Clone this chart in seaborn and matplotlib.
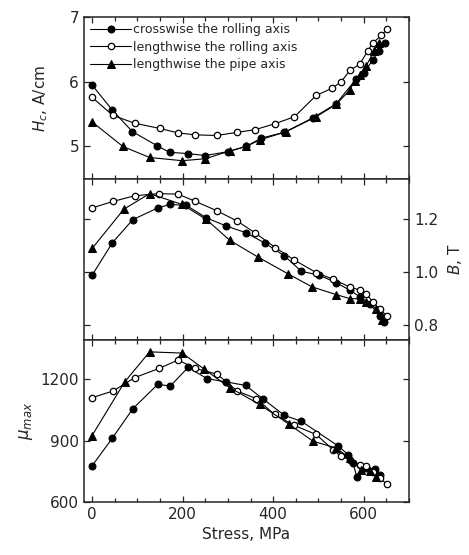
import numpy as np
import pandas as pd
import matplotlib
matplotlib.use("Agg")
import matplotlib.pyplot as plt
import seaborn as sns

# ---------------------------
# Data
# ---------------------------
# Coercive force Hc, A/cm
hc_cross_x = [0, 45, 89, 144, 171, 212, 250, 300, 340, 374, 425, 487, 539, 583, 600, 620, 633, 646]
hc_cross_y = [5.95, 5.56, 5.23, 5.01, 4.91, 4.89, 4.86, 4.92, 5.0, 5.13, 5.22, 5.44, 5.66, 6.04, 6.13, 6.34, 6.47, 6.6]
hc_long_x = [0, 46, 94, 149, 190, 228, 276, 321, 360, 403, 447, 495, 530, 550, 570, 591, 609, 620, 639, 651]
hc_long_y = [5.76, 5.48, 5.36, 5.28, 5.21, 5.18, 5.17, 5.22, 5.26, 5.35, 5.46, 5.79, 5.9, 6.0, 6.18, 6.27, 6.48, 6.6, 6.72, 6.81]
hc_pipe_x = [0, 68, 127, 199, 250, 304, 340, 370, 429, 495, 539, 569, 580, 591, 605, 622, 633]
hc_pipe_y = [5.38, 5.0, 4.83, 4.78, 4.81, 4.93, 5.0, 5.1, 5.23, 5.46, 5.65, 5.87, 6.02, 6.1, 6.24, 6.47, 6.6]

# Induction B, T
b_cross_x = [0, 45, 90, 145, 171, 208, 252, 296, 339, 381, 425, 462, 502, 539, 569, 591, 613, 635, 644]
b_cross_y = [0.986, 1.109, 1.196, 1.24, 1.253, 1.25, 1.203, 1.172, 1.147, 1.108, 1.059, 1.001, 0.986, 0.958, 0.93, 0.905, 0.879, 0.833, 0.81]
b_long_x = [0, 47, 94, 148, 190, 228, 276, 321, 359, 405, 447, 495, 532, 569, 591, 605, 620, 635, 651]
b_long_y = [1.24, 1.265, 1.286, 1.294, 1.292, 1.265, 1.229, 1.19, 1.147, 1.09, 1.043, 0.996, 0.971, 0.942, 0.93, 0.917, 0.886, 0.858, 0.833]
b_pipe_x = [0, 70, 127, 199, 252, 304, 366, 432, 486, 539, 569, 591, 605, 628, 641]
b_pipe_y = [1.087, 1.235, 1.294, 1.253, 1.197, 1.118, 1.055, 0.992, 0.942, 0.913, 0.898, 0.897, 0.886, 0.86, 0.816]

# Maximum permeability
mu_cross_x = [0, 45, 90, 145, 173, 212, 254, 296, 339, 377, 425, 462, 543, 566, 576, 585, 605, 624, 635]
mu_cross_y = [777, 913, 1056, 1175, 1167, 1258, 1203, 1187, 1170, 1105, 1023, 995, 875, 831, 793, 721, 766, 761, 733]
mu_long_x = [0, 47, 94, 148, 190, 228, 276, 321, 363, 403, 447, 495, 532, 550, 569, 591, 605, 620, 635, 651]
mu_long_y = [1110, 1143, 1208, 1253, 1294, 1253, 1225, 1142, 1105, 1028, 974, 930, 856, 823, 807, 782, 774, 749, 717, 688]
mu_pipe_x = [0, 72, 127, 199, 248, 304, 370, 436, 488, 539, 569, 594, 613, 628]
mu_pipe_y = [925, 1187, 1334, 1328, 1249, 1159, 1077, 979, 897, 864, 815, 757, 750, 724]

labels = ["crosswise the rolling axis", "lengthwise the rolling axis", "lengthwise the pipe axis"]

# ---------------------------
# Styling
# ---------------------------
sns.set_style("ticks")
plt.rcParams['font.family'] = ['DejaVu Sans']
plt.rcParams['mathtext.fontset'] = 'dejavusans'

styles = [
    dict(marker="o", markerfacecolor="black", markeredgecolor="black", markersize=5),
    dict(marker="o", markerfacecolor="white", markeredgecolor="black", markersize=4.6, markeredgewidth=0.9),
    dict(marker="^", markerfacecolor="black", markeredgecolor="black", markersize=5.5),
]

fig, axes = plt.subplots(3, 1, figsize=(4.69, 5.55), dpi=100, sharex=True)
fig.subplots_adjust(left=0.179, right=0.872, top=0.969, bottom=0.0955, hspace=0)

panels = [
    (axes[0], [(hc_cross_x, hc_cross_y), (hc_long_x, hc_long_y), (hc_pipe_x, hc_pipe_y)]),
    (axes[1], [(b_cross_x, b_cross_y), (b_long_x, b_long_y), (b_pipe_x, b_pipe_y)]),
    (axes[2], [(mu_cross_x, mu_cross_y), (mu_long_x, mu_long_y), (mu_pipe_x, mu_pipe_y)]),
]

for ax, series in panels:
    for (xs, ys), lab, st in zip(series, labels, styles):
        sns.lineplot(x=xs, y=ys, ax=ax, color="black", linewidth=0.8, label=lab, **st)
    ax.tick_params(axis="both", which="both", direction="in", top=True, right=True,
                   labelsize=11, length=4, width=0.9)
    ax.tick_params(axis="x", which="minor", length=3)
    for sp in ax.spines.values():
        sp.set_linewidth(1.1)
    if ax is not axes[0]:
        ax.get_legend().remove()

ax = axes[0]
ax.set_ylim(4.5, 7.0)
ax.set_yticks([5, 6, 7])
ax.set_ylabel("$H_c$, A/cm", fontsize=11, labelpad=14)
ax.legend(loc="upper left", frameon=False, fontsize=9, handlelength=3.3,
          handletextpad=0.15, labelspacing=0.35, borderaxespad=0.2, borderpad=0.3)

ax = axes[1]
ax.set_ylim(0.74, 1.35)
ax.set_yticks([0.8, 1.0, 1.2])
ax.yaxis.set_major_formatter(matplotlib.ticker.FormatStrFormatter("%.1f"))
ax.yaxis.tick_right()
ax.tick_params(axis="y", left=True, right=True, labelleft=False, labelright=True,
               direction="in", labelsize=11)
ax.yaxis.set_label_position("right")
ax.set_ylabel("$B$, T", fontsize=11, labelpad=6)

ax = axes[2]
ax.set_ylim(600, 1390)
ax.set_yticks([600, 900, 1200])
ax.set_ylabel("$\\mu_{max}$", fontsize=12)
ax.set_xlim(-18, 700)
ax.set_xticks([0, 200, 400, 600])
ax.xaxis.set_minor_locator(matplotlib.ticker.MultipleLocator(50))
ax.set_xlabel("Stress, MPa", fontsize=11)

plt.savefig("out.png", dpi=100)
